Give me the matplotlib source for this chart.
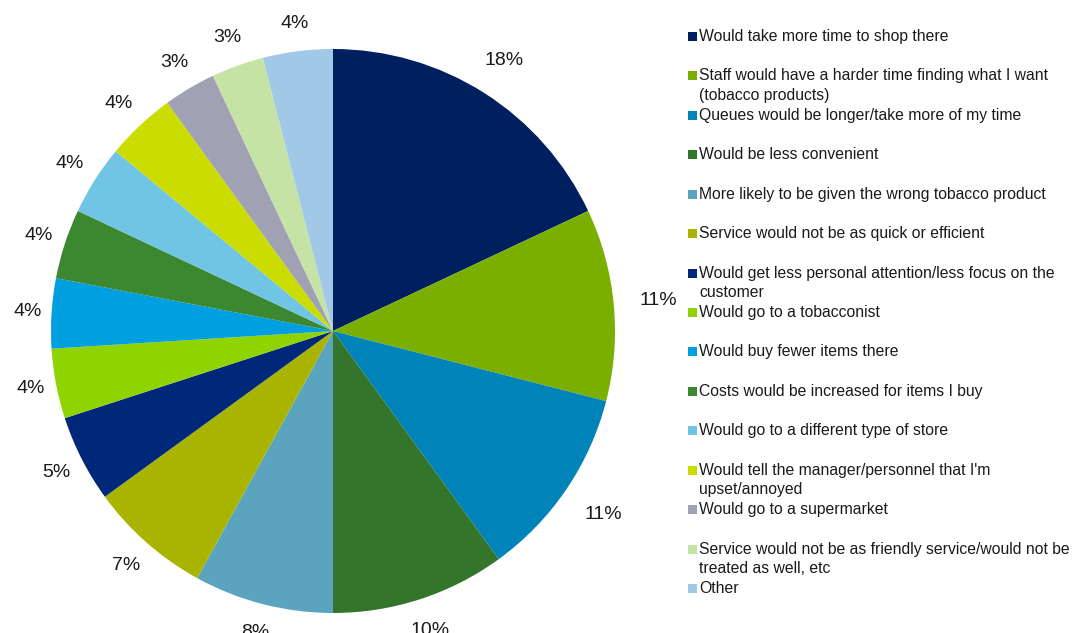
import matplotlib
matplotlib.use("Agg")
import matplotlib.pyplot as plt
import matplotlib.patches as patches
import numpy as np

plt.rcParams['font.family'] = ['Liberation Sans', 'DejaVu Sans']

# Reasons given, in clockwise order from 12 o'clock
reasons = [
    "Would take more time to shop there",
    "Staff would have a harder time finding what I want\n(tobacco products)",
    "Queues would be longer/take more of my time",
    "Would be less convenient",
    "More likely to be given the wrong tobacco product",
    "Service would not be as quick or efficient",
    "Would get less personal attention/less focus on the\ncustomer",
    "Would go to a tobacconist",
    "Would buy fewer items there",
    "Costs would be increased for items I buy",
    "Would go to a different type of store",
    "Would tell the manager/personnel that I'm\nupset/annoyed",
    "Would go to a supermarket",
    "Service would not be as friendly service/would not be\ntreated as well, etc",
    "Other",
]
shares = [18, 11, 11, 10, 8, 7, 5, 4, 4, 4, 4, 4, 3, 3, 4]
colors = [
    "#001f5f", "#7aaf00", "#0083b9", "#33752b", "#5ba4c0",
    "#a9b400", "#00287a", "#8fd400", "#00a0e0", "#3c8830",
    "#70c4e4", "#cbdd00", "#a0a2b4", "#c5e3a4", "#a2c8e8",
]

W, H = 1076, 633
fig = plt.figure(figsize=(W / 100, H / 100), dpi=100)

# pie placed by pixel centre and radius
cx, cy, r = 333, 331, 282
ax = fig.add_axes([(cx - r) / W, (H - cy - r) / H, 2 * r / W, 2 * r / H])
wedges, _ = ax.pie(shares, colors=colors, startangle=90, counterclock=False,
                   radius=1.0, wedgeprops=dict(linewidth=0))
ax.set_xlim(-1, 1)
ax.set_ylim(-1, 1)
ax.set_aspect('equal')
ax.set_axis_off()

# percentage labels just outside each slice, pushed out by the text box size
for w, v in zip(wedges, shares):
    mid = np.deg2rad((w.theta1 + w.theta2) / 2)
    c, s = np.cos(mid), np.sin(mid)
    txt = f"{v}%"
    hw = 6.6 * len(txt)
    hh = 16
    gap = 10 + 14 * max(c, 0) ** 2
    d = 1 + (gap + abs(c) * hw + abs(s) * hh) / r
    ax.text(d * c, d * s, txt, ha='center', va='center',
            fontsize=14, color='#1a1a1a')

# legend drawn in pixel coordinates
lax = fig.add_axes([0, 0, 1, 1])
lax.set_xlim(0, W)
lax.set_ylim(H, 0)
lax.set_axis_off()
y0, step = 36.5, 39.43
for i, (name, col) in enumerate(zip(reasons, colors)):
    y = y0 + i * step
    lax.add_patch(patches.Rectangle((688, y - 4.5), 9, 9, facecolor=col, edgecolor='none'))
    for j, line in enumerate(name.split("\n")):
        lax.text(699, y + j * 19.5, line, ha='left', va='center',
                 fontsize=11.3, color='#1a1a1a')

fig.savefig("out.png", dpi=100, facecolor='white')
